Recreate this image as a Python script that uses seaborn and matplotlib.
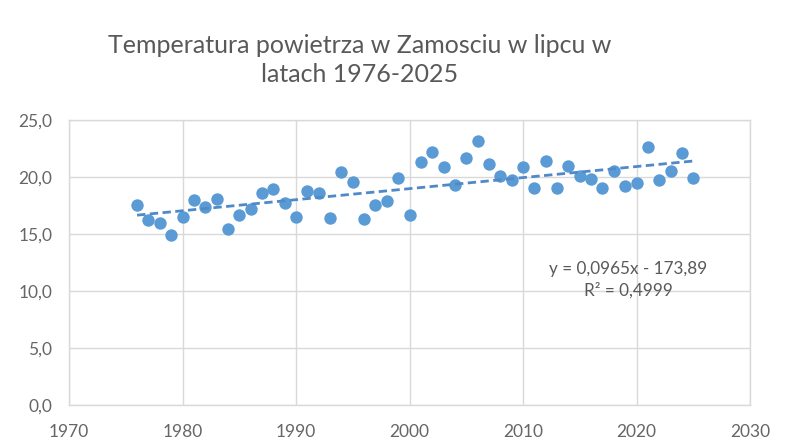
import numpy as np
import pandas as pd
import matplotlib
matplotlib.use("Agg")
import matplotlib.pyplot as plt
import seaborn as sns

years = list(range(1976, 2026))
temps = [17.5, 16.2, 16.0, 14.9, 16.5, 18.0, 17.4, 18.05, 15.4, 16.7,
         17.2, 18.6, 18.95, 17.7, 16.5, 18.8, 18.6, 16.4, 20.4, 19.6,
         16.3, 17.5, 17.9, 19.9, 16.7, 21.3, 22.2, 20.85, 19.3, 21.7,
         23.2, 21.1, 20.1, 19.7, 20.85, 19.0, 21.4, 19.0, 21.0, 20.1,
         19.8, 19.0, 20.5, 19.25, 19.45, 22.6, 19.75, 20.5, 22.1, 19.9]
title = "Temperatura powietrza w Zamosciu w lipcu w\nlatach 1976-2025"
equation = "y = 0,0965x - 173,89\nR² = 0,4999"
x_ticks = [1970, 1980, 1990, 2000, 2010, 2020, 2030]
y_ticks = [0, 5, 10, 15, 20, 25]

df = pd.DataFrame({"year": years, "temp": temps})

sns.set_theme(style="white")
plt.rcParams['font.family'] = ['Lato', 'DejaVu Sans']

fig = plt.figure(figsize=(8.02, 4.44), dpi=100)
ax = fig.add_axes([69/802, 1 - 405/444, (750 - 69)/802, (405 - 120)/444])

blue = "#5B9BD5"
sns.scatterplot(data=df, x="year", y="temp", ax=ax, color=blue, s=80,
                edgecolor=blue, linewidth=0, zorder=3)
coef = np.polyfit(df["year"], df["temp"], 1)
xs = np.array([df["year"].min(), df["year"].max()])
sns.lineplot(x=xs, y=np.polyval(coef, xs), ax=ax, color="#5089C8",
             linestyle=(0, (3, 1.6)), linewidth=2.0, zorder=4)

ax.set_xlim(1970, 2030)
ax.set_ylim(0, 25)
ax.set_xticks(x_ticks)
ax.set_yticks(y_ticks)
ax.set_yticklabels([f"{v:.1f}".replace(".", ",") for v in y_ticks])
ax.grid(True, color="#d9d9d9", linewidth=1)
ax.set_axisbelow(True)
for sp in ax.spines.values():
    sp.set_color("#d9d9d9")
    sp.set_linewidth(1)
ax.tick_params(axis="both", colors="#666666", labelsize=12.5, length=0)
ax.tick_params(axis="y", pad=12)
ax.tick_params(axis="x", pad=14)
ax.set_xlabel("")
ax.set_ylabel("")

fig.text(360/802, 1 - 60/444, title, ha="center", va="center", fontsize=18,
         color="#595959", linespacing=1.3)
ax.text(2019.25, 11.0, equation, ha="center", va="center", fontsize=12.3,
        color="#595959", linespacing=1.35)

fig.savefig("out.png", dpi=100)
